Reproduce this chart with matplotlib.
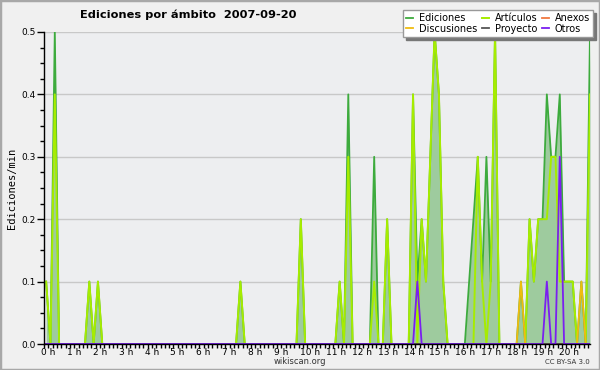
import numpy as np
import matplotlib
matplotlib.use("Agg")
import matplotlib.pyplot as plt
import matplotlib.transforms as mtransforms
from matplotlib.ticker import MultipleLocator, FixedLocator
from matplotlib.patches import Rectangle

# 10 minute bins from 0h00 to 21h10, values in edits per minute
n_bins = 127
hours = list(range(0, 21))
hour_labels = [f"{h} h" for h in hours]

# only the non zero bins {bin: value}
ediciones = {0: 0.1, 2: 0.5, 10: 0.1, 12: 0.1, 45: 0.1, 59: 0.2, 68: 0.1, 70: 0.4, 76: 0.3, 79: 0.2,
             85: 0.4, 86: 0.1, 87: 0.2, 88: 0.1, 89: 0.3, 90: 0.5, 91: 0.4, 92: 0.1,
             98: 0.1, 99: 0.2, 100: 0.3, 101: 0.1, 102: 0.3, 103: 0.1, 104: 0.5,
             110: 0.1, 112: 0.2, 113: 0.1, 114: 0.2, 115: 0.2, 116: 0.4, 117: 0.3, 118: 0.3,
             119: 0.4, 120: 0.1, 121: 0.1, 122: 0.1, 124: 0.1, 126: 0.5}
articulos = {0: 0.1, 2: 0.4, 10: 0.1, 12: 0.1, 45: 0.1, 59: 0.2, 68: 0.1, 70: 0.3, 76: 0.1, 79: 0.2,
             85: 0.4, 87: 0.2, 88: 0.1, 89: 0.3, 90: 0.5, 91: 0.4, 92: 0.1,
             100: 0.3, 101: 0.1, 103: 0.1, 104: 0.5,
             112: 0.2, 113: 0.1, 114: 0.2, 115: 0.2, 116: 0.2, 117: 0.3, 118: 0.3, 119: 0.1,
             120: 0.1, 121: 0.1, 122: 0.1, 126: 0.4}
discusiones = {110: 0.1, 124: 0.1}
anexos = {}
proyecto = {}
otros = {86: 0.1, 116: 0.1, 119: 0.3}


def expand(points):
    vals = np.zeros(n_bins)
    for k, v in points.items():
        vals[k] = v
    return vals


t = (np.arange(n_bins) + 0.5) / 6.0

fig = plt.figure(figsize=(6, 3.7), dpi=100, facecolor="#f0f0f0")
ax = fig.add_axes([44 / 600, 1 - 344 / 370, 546 / 600, 312 / 370])
ax.set_facecolor("#edeef0")

# grid
for y in [0.1, 0.2, 0.3, 0.4, 0.5]:
    ax.axhline(y, color="#c8c8c8", lw=1, zorder=1)

E = expand(ediciones)
ax.fill_between(t, 0, E, color="#9ecb9e", lw=0, zorder=2)
l_ed, = ax.plot(t, E, color="#3dab3d", lw=1.3, zorder=3, label="Ediciones")
l_art, = ax.plot(t, expand(articulos), color="#a6ec00", lw=1.4, zorder=4, label="Artículos")
l_disc, = ax.plot(t, expand(discusiones), color="#f0bc10", lw=1.3, zorder=5, label="Discusiones")
l_anx, = ax.plot(t, expand(anexos), color="#f07840", lw=1.3, zorder=5, label="Anexos")
l_pro, = ax.plot(t, expand(proyecto), color="#555555", lw=1.3, zorder=5, label="Proyecto")
l_otr, = ax.plot(t, expand(otros), color="#7a1ff0", lw=1.3, zorder=6, label="Otros")

ax.set_xlim(0, t[-1])
ax.set_ylim(0, 0.5)

# axes / ticks
for s in ["top", "right"]:
    ax.spines[s].set_visible(False)
for s in ["left", "bottom"]:
    ax.spines[s].set_color("black")
    ax.spines[s].set_linewidth(1)
    ax.spines[s].set_zorder(10)

ax.xaxis.set_major_locator(FixedLocator(hours))
ax.set_xticklabels(hour_labels)
ax.xaxis.set_minor_locator(MultipleLocator(1 / 6))
ax.yaxis.set_major_locator(MultipleLocator(0.1))
ax.yaxis.set_minor_locator(MultipleLocator(0.025))
ax.yaxis.set_major_formatter(matplotlib.ticker.FormatStrFormatter("%.1f"))
ax.tick_params(axis="x", which="major", direction="out", length=3, width=1, pad=0, labelsize=6.5, colors="black")
ax.tick_params(axis="x", which="minor", direction="out", length=3, width=1)
ax.tick_params(axis="y", which="major", direction="out", length=5, width=1, pad=1, labelsize=6.5)
ax.tick_params(axis="y", which="minor", direction="out", length=3, width=1)

shift = mtransforms.ScaledTranslation(-3 / 100, 0, fig.dpi_scale_trans)
for lab in ax.get_xticklabels():
    lab.set_ha("left")
    lab.set_transform(lab.get_transform() + shift)

ax.set_ylabel("Ediciones/min", fontsize=7.5, family="DejaVu Sans Mono", labelpad=3)

fig.text(188 / 600, 1 - 15 / 370, "Ediciones por ámbito  2007-09-20", ha="center", va="center",
         fontsize=8.2, fontweight="bold")
fig.text(300 / 600, 1 - 362 / 370, "wikiscan.org", ha="center", va="center", fontsize=6, color="#333333")
fig.text(590 / 600, 1 - 362 / 370, "CC BY-SA 3.0", ha="right", va="center", fontsize=5, color="#333333")

leg = fig.legend([l_ed, l_disc, l_art, l_pro, l_anx, l_otr],
                 ["Ediciones", "Discusiones", "Artículos", "Proyecto", "Anexos", "Otros"],
                 ncol=3, loc="upper right", bbox_to_anchor=(593 / 600, 1 - 10 / 370),
                 fontsize=7, frameon=True, fancybox=False, shadow={"color": "#777777", "alpha": 1},
                 handlelength=0.7, handletextpad=0.6, columnspacing=0.5, labelspacing=0.1,
                 borderpad=0.3, borderaxespad=0)
leg.get_frame().set_edgecolor("#999999")
leg.get_frame().set_facecolor("white")
leg.get_frame().set_linewidth(1)
leg.set_zorder(20)

fig.patches.append(Rectangle((0, 0), 1, 1, transform=fig.transFigure, fill=False,
                             edgecolor="#a8a8a8", lw=2.5))

fig.savefig("out.png", dpi=100, facecolor=fig.get_facecolor())
